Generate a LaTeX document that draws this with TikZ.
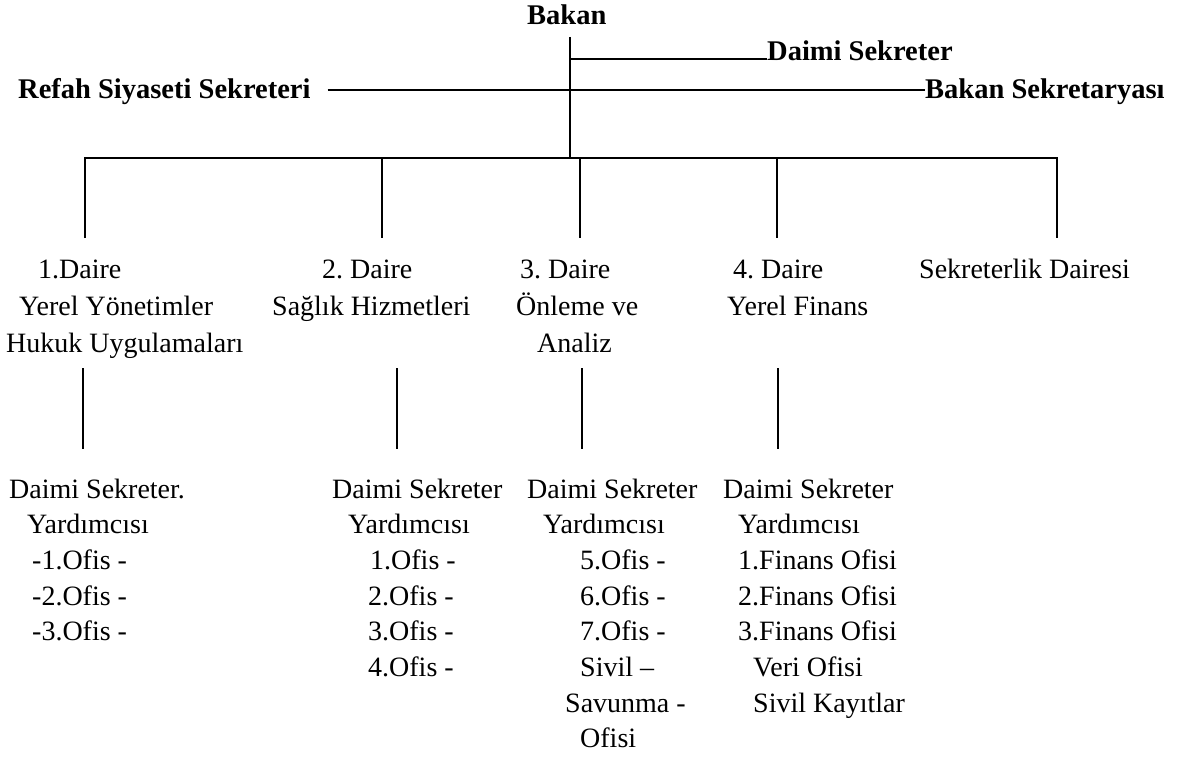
\documentclass[tikz,border=0pt]{standalone}
\usepackage{fontspec}
\setmainfont{Liberation Serif}
\usetikzlibrary{calc}
\frenchspacing
\begin{document}
\begin{tikzpicture}[x=1pt,y=-1pt,
  txt/.style={inner sep=0pt, anchor=base west, font={\fontsize{28}{34}\selectfont}},
  head/.style={inner sep=0pt, anchor=base west, font={\fontsize{28.5}{34}\selectfont\bfseries}},
  link/.style={line width=1.4pt, black},
]
\useasboundingbox (0,0) rectangle (1178,760);

% --- top level ---
\node[head] (bakan) at (527,25) {Bakan};
\node[head] (daimi) at (767,60) {Daimi Sekreter};
\node[head] (refah) at (18,98) {Refah Siyaseti Sekreteri};
\node[head] (bsek)  at (925,98) {Bakan Sekretaryası};

\coordinate (top) at (570,37);
\coordinate (hub) at (570,158);
\coordinate (jd)  at (570,59);
\coordinate (jr)  at (570,90);
\draw[link] (top) -- (hub);
\draw[link] (jd) -- (jd -| daimi.west);
\draw[link] ($(jr -| refah.east)+(17,0)$) -- (jr -| bsek.west);

% --- bus to the departments ---
\foreach \i/\x in {1/85,2/382,3/580,4/777,5/1057}{
  \coordinate (d\i) at (\x,158);
  \coordinate (e\i) at (\x,238);
}
\draw[link] (e1) -- (d1) -- (d5) -- (e5);
\foreach \i in {2,3,4} \draw[link] (d\i) -- (e\i);

% --- departments ---
\node[txt] (m1a) at (38,278)  {1.Daire};
\node[txt] (m1b) at (19,315)  {Yerel Yönetimler};
\node[txt] (m1c) at (6,352)   {Hukuk Uygulamaları};
\node[txt] (m2a) at (322,278) {2. Daire};
\node[txt] (m2b) at (272,315) {Sağlık Hizmetleri};
\node[txt] (m3a) at (520,278) {3. Daire};
\node[txt] (m3b) at (516,315) {Önleme ve};
\node[txt] (m3c) at (537,352) {Analiz};
\node[txt] (m4a) at (733,278) {4. Daire};
\node[txt] (m4b) at (727,315) {Yerel Finans};
\node[txt] (m5a) at (919,278) {Sekreterlik Dairesi};

% --- links to the deputy secretaries ---
\foreach \i/\x in {1/83,2/397,3/582,4/778}{
  \coordinate (u\i) at (\x,368);
  \coordinate (l\i) at (\x,449);
  \draw[link] (u\i) -- (l\i);
}

% --- deputy secretaries and their offices ---
\foreach \t/\x [count=\k] in {{Daimi Sekreter.}/9,{Yardımcısı}/27,{-1.Ofis -}/32,{-2.Ofis -}/32,{-3.Ofis -}/32}
  \node[txt] (a\k) at (\x,{498+35.7*(\k-1)}) {\t};
\foreach \t/\x [count=\k] in {{Daimi Sekreter}/332,{Yardımcısı}/348,{1.Ofis -}/370,{2.Ofis -}/368,{3.Ofis -}/368,{4.Ofis -}/368}
  \node[txt] (b\k) at (\x,{498+35.7*(\k-1)}) {\t};
\foreach \t/\x [count=\k] in {{Daimi Sekreter}/527,{Yardımcısı}/543,{5.Ofis -}/580,{6.Ofis -}/580,{7.Ofis -}/580,{Sivil –}/580,{Savunma -}/565,{Ofisi}/580}
  \node[txt] (c\k) at (\x,{498+35.7*(\k-1)}) {\t};
\foreach \t/\x [count=\k] in {{Daimi Sekreter}/723,{Yardımcısı}/738,{1.Finans Ofisi}/738,{2.Finans Ofisi}/738,{3.Finans Ofisi}/738,{Veri Ofisi}/753,{Sivil Kayıtlar}/753}
  \node[txt] (f\k) at (\x,{498+35.7*(\k-1)}) {\t};
\end{tikzpicture}
\end{document}
